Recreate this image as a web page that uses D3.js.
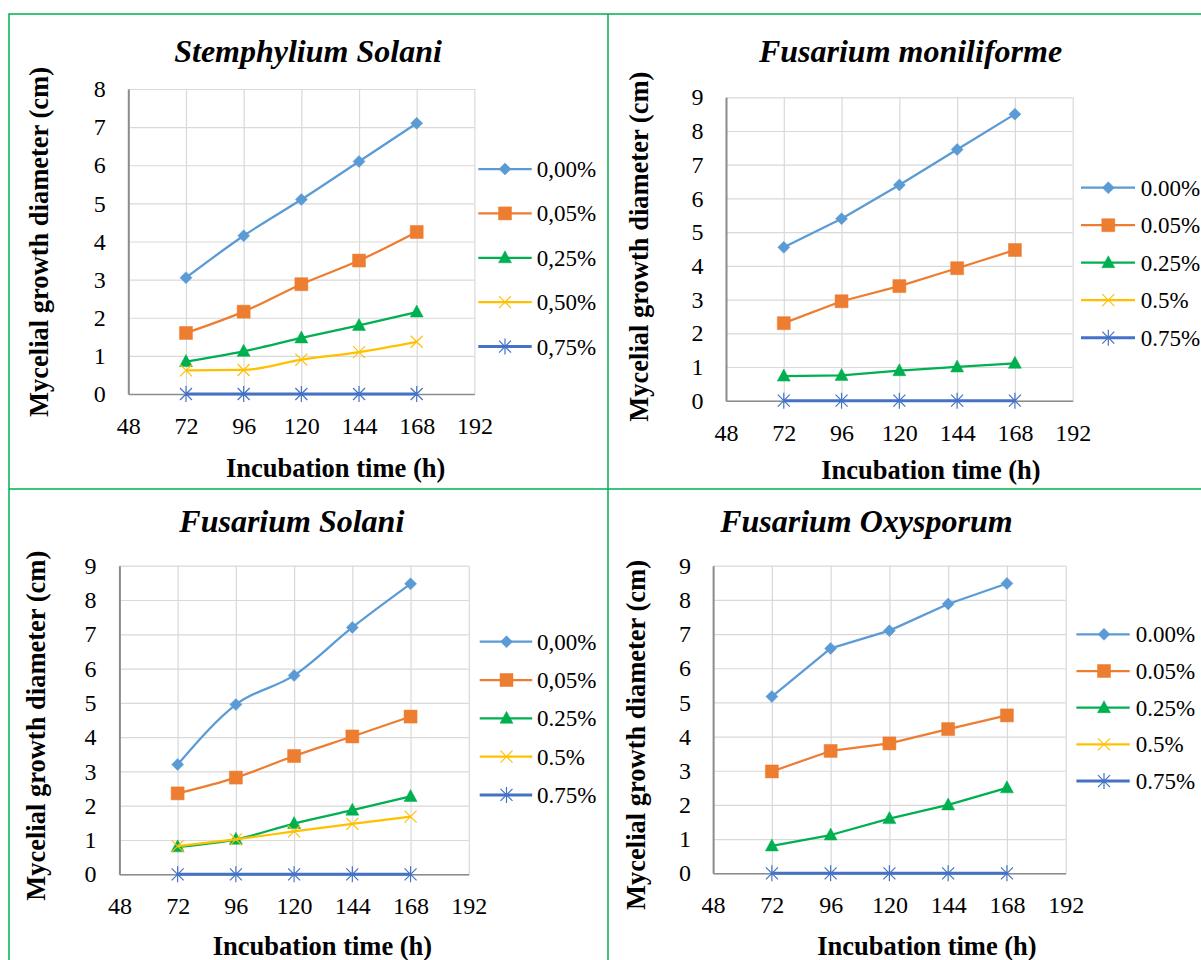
<!DOCTYPE html>
<html>
<head>
<meta charset="utf-8">
<title>Mycelial growth diameter</title>
<script src="https://cdn.jsdelivr.net/npm/d3@7"></script>
<style>
  body { margin: 0; background: #fff; }
  svg { display: block; }
</style>
</head>
<body>
<div id="container"></div>
<script>
// hours on the x axis, shared by the four charts
const hours = [72, 96, 120, 144, 168];
const xTickValues = [48, 72, 96, 120, 144, 168, 192];

const chartTitles = ["Stemphylium Solani", "Fusarium moniliforme", "Fusarium Solani", "Fusarium Oxysporum"];
const yMaxes = [8, 9, 9, 9];

// legend labels as written in each chart
const legendStemphylium = ["0,00%", "0,05%", "0,25%", "0,50%", "0,75%"];
const legendMoniliforme = ["0.00%", "0.05%", "0.25%", "0.5%", "0.75%"];
const legendSolani = ["0,00%", "0,05%", "0.25%", "0.5%", "0.75%"];
const legendOxysporum = ["0.00%", "0.05%", "0.25%", "0.5%", "0.75%"];

// mycelial growth (cm), one row per concentration
const stemphyliumSolani = [
  [3.05, 4.15, 5.1, 6.1, 7.1],
  [1.6, 2.16, 2.88, 3.5, 4.25],
  [0.85, 1.12, 1.47, 1.8, 2.15],
  [0.62, 0.63, 0.9, 1.1, 1.37],
  [0, 0, 0, 0, 0]
];
const fusariumMoniliforme = [
  [4.55, 5.4, 6.4, 7.45, 8.5],
  [2.3, 2.95, 3.4, 3.93, 4.47],
  [0.73, 0.75, 0.89, 1.0, 1.11],
  [],
  [0, 0, 0, 0, 0]
];
const fusariumSolani = [
  [3.2, 4.95, 5.8, 7.2, 8.47],
  [2.36, 2.82, 3.45, 4.02, 4.6],
  [0.8, 1.02, 1.48, 1.87, 2.27],
  [0.82, 1.02, 1.25, 1.47, 1.68],
  [0, 0, 0, 0, 0]
];
const fusariumOxysporum = [
  [5.17, 6.58, 7.1, 7.88, 8.48],
  [2.98, 3.58, 3.8, 4.22, 4.62],
  [0.8, 1.12, 1.6, 2.0, 2.5],
  [],
  [0, 0, 0, 0, 0]
];

// styles
const FONT = "'Liberation Serif', 'Times New Roman', Times, serif";
const colors = ["#5b9bd5", "#ed7d31", "#00b050", "#ffc000", "#4472c4"];
const lineWidths = [2.25, 2.25, 2.25, 2.25, 3];
const markerPaths = [
  "M0,-6L6,0L0,6L-6,0Z",
  "M-6.5,-6.5h13v13h-13Z",
  "M0,-7L6.5,5L-6.5,5Z",
  "M-6,-6L6,6M6,-6L-6,6",
  "M-6,-6L6,6M6,-6L-6,6M0,-8V8"
];
const markerFilled = [true, true, true, false, false];

// layout of each panel
const panels = [
  { data: stemphyliumSolani, legend: legendStemphylium, title: chartTitles[0], yMax: yMaxes[0], smooth: true,
    x0: 128.3, x1: 474.4, y0: 89, y1: 394, yPad: 22.5,
    yTitleX: 48, yTitleY: 242, xTitleX: 335.6, xTitleY: 476.7, titleX: 308, titleY: 61.7,
    legX0: 478.3, legX1: 531.7, legMark: 505, legText: 536.7, legY0: 169, legStep: 44.4 },
  { data: fusariumMoniliforme, legend: legendMoniliforme, title: chartTitles[1], yMax: yMaxes[1], smooth: false,
    x0: 726, x1: 1072.7, y0: 97.3, y1: 400.7, yPad: 22.5,
    yTitleX: 648, yTitleY: 246.7, xTitleX: 931, xTitleY: 479, titleX: 910.5, titleY: 61.7,
    legX0: 1081, legX1: 1135, legMark: 1108.3, legText: 1140.7, legY0: 187.7, legStep: 37.5 },
  { data: fusariumSolani, legend: legendSolani, title: chartTitles[2], yMax: yMaxes[2], smooth: true,
    x0: 119.4, x1: 468.8, y0: 565.7, y1: 874.3, yPad: 23,
    yTitleX: 44.7, yTitleY: 725.8, xTitleX: 322.5, xTitleY: 955, titleX: 291.8, titleY: 531.7,
    legX0: 479.7, legX1: 532.2, legMark: 506.5, legText: 536.9, legY0: 641.7, legStep: 38.3 },
  { data: fusariumOxysporum, legend: legendOxysporum, title: chartTitles[3], yMax: yMaxes[3], smooth: false,
    x0: 713.1, x1: 1065.7, y0: 565.7, y1: 873.3, yPad: 22,
    yTitleX: 645.2, yTitleY: 735, xTitleX: 927, xTitleY: 955, titleX: 866.4, titleY: 531.7,
    legX0: 1076.4, legX1: 1129.7, legMark: 1104, legText: 1135.8, legY0: 634.3, legStep: 36.7 }
];

const svg = d3.select("#container")
  .append("svg")
  .attr("width", 1201)
  .attr("height", 960)
  .attr("font-family", FONT);

svg.append("rect").attr("width", 1201).attr("height", 960).attr("fill", "#fff");

// green frame round the four panels
const frame = svg.append("g").attr("stroke", "#00b050").attr("stroke-width", 1.5).attr("fill", "none");
frame.append("path").attr("d", "M9,960V14H1201");
frame.append("path").attr("d", "M608,14V960");
frame.append("path").attr("d", "M9,489H1201");

function drawMarker(g, i, cx, cy) {
  g.append("path")
    .attr("d", markerPaths[i])
    .attr("transform", "translate(" + cx + "," + cy + ")")
    .attr("fill", markerFilled[i] ? colors[i] : "none")
    .attr("stroke", colors[i])
    .attr("stroke-width", markerFilled[i] ? 0.5 : 1.2);
}

panels.forEach(function (p) {
  const g = svg.append("g");
  const w = p.x1 - p.x0;
  const h = p.y1 - p.y0;

  const xScale = d3.scaleLinear().domain([48, 192]).range([p.x0, p.x1]);
  const yScale = d3.scaleLinear().domain([0, p.yMax]).range([p.y1, p.y0]);
  const yTicks = d3.range(0, p.yMax + 1);

  // grid lines
  const xGrid = g.append("g")
    .attr("transform", "translate(0," + p.y1 + ")")
    .call(d3.axisBottom(xScale).tickValues(xTickValues).tickSize(-h).tickFormat(""));
  xGrid.select(".domain").remove();
  xGrid.selectAll("line").attr("stroke", "#d9d9d9").attr("stroke-width", 1.2);

  const yGrid = g.append("g")
    .attr("transform", "translate(" + p.x0 + ",0)")
    .call(d3.axisLeft(yScale).tickValues(yTicks).tickSize(-w).tickFormat(""));
  yGrid.select(".domain").remove();
  yGrid.selectAll("line").attr("stroke", "#d9d9d9").attr("stroke-width", 1.2);

  // axes
  const xAxis = g.append("g")
    .attr("transform", "translate(0," + p.y1 + ")")
    .call(d3.axisBottom(xScale).tickValues(xTickValues).tickSize(0).tickSizeOuter(0).tickPadding(23))
    .attr("font-family", FONT)
    .attr("font-size", 24);
  xAxis.select(".domain").attr("stroke", "#8c8c8c").attr("stroke-width", 1.5);
  xAxis.selectAll("text").attr("fill", "#000");

  const yAxis = g.append("g")
    .attr("transform", "translate(" + p.x0 + ",0)")
    .call(d3.axisLeft(yScale).tickValues(yTicks).tickSize(0).tickSizeOuter(0).tickPadding(p.yPad))
    .attr("font-family", FONT)
    .attr("font-size", 24);
  yAxis.select(".domain").attr("stroke", "#8c8c8c").attr("stroke-width", 2);
  yAxis.selectAll("text").attr("fill", "#000");

  // series
  const line = d3.line()
    .x(function (d, i) { return xScale(hours[i]); })
    .y(function (d) { return yScale(d); })
    .curve(p.smooth ? d3.curveMonotoneX : d3.curveLinear);

  p.data.forEach(function (values, i) {
    if (!values.length) return;
    g.append("path")
      .attr("d", line(values))
      .attr("fill", "none")
      .attr("stroke", colors[i])
      .attr("stroke-width", lineWidths[i])
      .attr("stroke-linejoin", "round");
    values.forEach(function (v, j) {
      drawMarker(g, i, xScale(hours[j]), yScale(v));
    });
  });

  // legend
  p.legend.forEach(function (label, i) {
    const ly = p.legY0 + i * p.legStep;
    g.append("line")
      .attr("x1", p.legX0).attr("x2", p.legX1)
      .attr("y1", ly).attr("y2", ly)
      .attr("stroke", colors[i])
      .attr("stroke-width", lineWidths[i]);
    drawMarker(g, i, p.legMark, ly);
    g.append("text")
      .attr("x", p.legText)
      .attr("y", ly)
      .attr("dy", "0.35em")
      .attr("font-size", 23)
      .text(label);
  });

  // titles
  g.append("text")
    .attr("x", p.titleX)
    .attr("y", p.titleY)
    .attr("text-anchor", "middle")
    .attr("font-size", 32)
    .attr("font-weight", "bold")
    .attr("font-style", "italic")
    .text(p.title);

  g.append("text")
    .attr("x", p.xTitleX)
    .attr("y", p.xTitleY)
    .attr("text-anchor", "middle")
    .attr("font-size", 26.5)
    .attr("font-weight", "bold")
    .text("Incubation time (h)");

  g.append("text")
    .attr("transform", "translate(" + p.yTitleX + "," + p.yTitleY + ") rotate(-90)")
    .attr("text-anchor", "middle")
    .attr("font-size", 26.5)
    .attr("font-weight", "bold")
    .text("Mycelial growth diameter (cm)");
});
</script>
</body>
</html>
